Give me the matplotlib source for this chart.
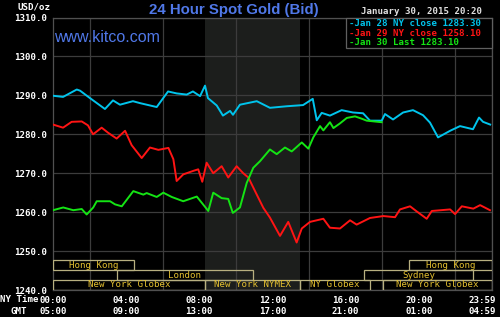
import matplotlib
matplotlib.use("Agg")
import matplotlib.pyplot as plt
from matplotlib.patches import Rectangle

# ---------------- data ----------------
cyan_h = [0.0, 0.55, 1.3, 1.48, 2.02, 2.84, 3.28, 3.66, 4.37, 4.76, 5.67, 6.29, 6.76, 7.31, 7.65,
          8.04, 8.31, 8.47, 8.95, 9.29, 9.68, 9.84, 10.22, 11.14, 11.86, 12.78, 13.67, 14.2, 14.42,
          14.69, 15.14, 15.78, 16.4, 16.95, 17.33, 17.97, 18.15, 18.59, 19.14, 19.68, 20.23, 20.61,
          21.05, 21.71, 22.25, 22.96, 23.29, 23.51, 23.9]
cyan_p = [1289.9, 1289.6, 1291.5, 1291.2, 1289.3, 1286.5, 1288.7, 1287.6, 1288.5, 1288.0, 1287.0,
          1291.0, 1290.5, 1290.2, 1291.0, 1289.8, 1292.5, 1289.3, 1287.4, 1284.8, 1286.0, 1285.0,
          1287.6, 1288.5, 1286.8, 1287.2, 1287.5, 1289.1, 1283.6, 1285.5, 1284.8, 1286.2, 1285.6,
          1285.4, 1283.5, 1283.5, 1285.2, 1283.8, 1285.6, 1286.2, 1284.9, 1283.0, 1279.2, 1280.9,
          1282.1, 1281.3, 1284.3, 1283.2, 1282.5]

red_h = [0.0, 0.55, 1.02, 1.57, 1.91, 2.19, 2.66, 3.01, 3.48, 3.94, 4.3, 4.85, 5.3, 5.76, 6.31,
         6.58, 6.76, 7.12, 7.67, 7.94, 8.16, 8.4, 8.76, 9.22, 9.58, 10.04, 10.4, 10.68, 11.14, 11.5,
         11.86, 12.41, 12.86, 13.32, 13.6, 14.05, 14.78, 15.14, 15.69, 16.24, 16.6, 17.33, 18.06,
         18.7, 18.97, 19.52, 19.88, 20.43, 20.71, 21.71, 21.98, 22.35, 22.98, 23.35, 23.89]
red_p = [1282.5, 1281.7, 1283.2, 1283.3, 1282.3, 1280.0, 1281.7, 1280.4, 1278.9, 1280.9, 1277.2,
         1273.9, 1276.6, 1276.0, 1276.5, 1273.6, 1268.0, 1269.7, 1270.6, 1271.0, 1267.8, 1272.7,
         1270.0, 1271.8, 1268.9, 1271.8, 1270.0, 1268.9, 1264.5, 1261.1, 1258.6, 1253.9, 1257.5,
         1252.2, 1255.8, 1257.5, 1258.3, 1256.0, 1255.8, 1257.9, 1256.8, 1258.5, 1259.0, 1258.7,
         1260.7, 1261.5, 1260.2, 1258.3, 1260.3, 1260.7, 1259.5, 1261.5, 1260.9, 1261.8, 1260.5]

green_h = [0.0, 0.56, 1.11, 1.57, 1.84, 2.2, 2.39, 3.12, 3.39, 3.76, 4.39, 4.94, 5.12, 5.67, 6.03,
           6.49, 7.12, 7.86, 8.22, 8.49, 8.76, 9.22, 9.58, 9.83, 10.22, 10.59, 10.95, 11.32, 11.86,
           12.23, 12.68, 13.05, 13.6, 13.96, 14.23, 14.6, 14.78, 15.14, 15.33, 15.69, 16.06, 16.51,
           16.88, 17.15, 17.97]
green_p = [1260.5, 1261.2, 1260.5, 1260.8, 1259.4, 1261.2, 1262.8, 1262.8, 1262.0, 1261.5, 1265.4,
           1264.5, 1264.9, 1263.9, 1265.0, 1263.9, 1262.8, 1264.0, 1261.9, 1260.3, 1265.0, 1263.6,
           1263.4, 1259.8, 1261.2, 1267.5, 1271.4, 1273.1, 1276.1, 1274.9, 1276.6, 1275.6, 1277.9,
           1276.3, 1279.2, 1282.1, 1281.0, 1283.1, 1281.6, 1282.8, 1284.2, 1284.6, 1284.0, 1283.5,
           1283.1]

legend_labels = ["-Jan 28 NY close 1283.30", "-Jan 29 NY close 1258.10", "-Jan 30 Last 1283.10"]

y_ticks = [1240, 1250, 1260, 1270, 1280, 1290, 1300, 1310]
ny_labels = ["00:00", "04:00", "08:00", "12:00", "16:00", "20:00"]
gmt_labels = ["05:00", "09:00", "13:00", "17:00", "21:00", "01:00"]
ny_ticks = [0, 4, 8, 12, 16, 20]
end_ny, end_gmt = "23:59", "04:59"

session_labels = ["Hong Kong", "London", "New York Globex", "New York NYMEX", "NY Globex",
                  "New York Globex", "Hong Kong", "Sydney"]
session_start = [0.0, 3.5, 0.0, 8.33, 13.5, 18.04, 19.46, 17.0]
session_end = [4.43, 10.93, 8.33, 13.5, 17.33, 24.0, 24.0, 22.96]
session_row = [0, 1, 2, 2, 2, 2, 0, 1]

pit_start, pit_end = 8.33, 13.5

# ---------------- styling ----------------
MONO = "DejaVu Sans Mono"
FS = 6.6
CYAN = "#00c4ec"
RED = "#ff1414"
GREEN = "#14e414"
BLUE = "#5078e8"
GRID = "#3c3c3c"
BOX = "#b8b080"
GOLD = "#e4c030"

W, H = 500, 317
fig = plt.figure(figsize=(W / 100, H / 100), dpi=100, facecolor="black")
L, R, T, B = 53, 492, 17.5, 290
ax = fig.add_axes([L / W, 1 - B / H, (R - L) / W, (B - T) / H])
ax.set_facecolor("black")
ax.set_xlim(0, 24)
ax.set_ylim(1240, 1310)

ax.axvspan(pit_start, pit_end, color="#1c1e1c", zorder=0.1, lw=0)

ax.set_yticks(y_ticks)
ax.set_yticklabels([f"{v:.1f}" for v in y_ticks], family=MONO, fontsize=FS, color="white",
                   fontweight="bold")
ax.set_xticks(ny_ticks)
ax.set_xticklabels([f"{a}\n{b}" for a, b in zip(ny_labels, gmt_labels)], family=MONO,
                   fontsize=FS, color="white", fontweight="bold", linespacing=1.3)
ax.set_xticks(range(0, 25, 2), minor=True)
ax.tick_params(length=0, which="both")
ax.tick_params(axis="y", pad=4)
ax.tick_params(axis="x", pad=4)
ax.set_axisbelow(True)
ax.grid(axis="y", color=GRID, lw=0.9)
ax.grid(axis="x", which="minor", color=GRID, lw=0.9)
for s in ax.spines.values():
    s.set_color("#505050")
    s.set_linewidth(0.9)

# end label 23:59 / 04:59
ax.text(1.01, -0.022, f"{end_ny}\n{end_gmt}", transform=ax.transAxes, ha="right", va="top",
        family=MONO, fontsize=FS, color="white", fontweight="bold", linespacing=1.3)

# sessions
row_bounds = [(1245.1, 1247.7), (1242.6, 1245.1), (1240.0, 1242.6)]
for lab, s0, s1, r in zip(session_labels, session_start, session_end, session_row):
    y0, y1 = row_bounds[r]
    ax.add_patch(Rectangle((s0, y0), s1 - s0, y1 - y0, fill=False, ec=BOX, lw=0.9, zorder=3))
    ax.text((s0 + s1) / 2, (y0 + y1) / 2, lab, ha="center", va="center", family=MONO,
            fontsize=FS, color=GOLD, zorder=4)

# series
ax.plot(cyan_h, cyan_p, color=CYAN, lw=1.4, zorder=5)
ax.plot(red_h, red_p, color=RED, lw=1.4, zorder=5)
ax.plot(green_h, green_p, color=GREEN, lw=1.4, zorder=6)

# legend box (pixel positions converted to axes fraction)
def axf(px, py):
    return (px - L) / (R - L), (B - py) / (B - T)

x0, y0 = axf(345.5, 48)
x1, y1 = axf(492, 17.5)
ax.add_patch(Rectangle((x0, y0), x1 - x0, y1 - y0, transform=ax.transAxes, fc="black",
                       ec="#606060", lw=0.9, zorder=8, clip_on=False))
for lab, col, py in zip(legend_labels, [CYAN, RED, GREEN], [23.5, 33, 42.5]):
    tx, ty = axf(349, py)
    ax.text(tx, ty, lab, transform=ax.transAxes, ha="left", va="center", family=MONO,
            fontsize=FS, color=col, fontweight="bold", zorder=9)

# texts
fig.text(233.5 / W, 1 - 10 / H, "24 Hour Spot Gold (Bid)", ha="center", va="center",
         family="Liberation Sans", fontsize=10.8, fontweight="bold", color=BLUE)
ax.text(*axf(54, 38), "www.kitco.com", transform=ax.transAxes, ha="left", va="center",
        family="Liberation Sans", fontsize=11.5, color=BLUE, zorder=7)
fig.text(17 / W, 1 - 6.5 / H, "USD/oz", ha="left", va="center", family=MONO, fontsize=FS,
         color="white", fontweight="bold")
fig.text(482 / W, 1 - 12 / H, "January 30, 2015 20:20", ha="right", va="center", family=MONO,
         fontsize=FS, color="#e0e0e0", fontweight="bold")
fig.text(19 / W, 1 - 300 / H, "NY Time", ha="center", va="center", family=MONO, fontsize=FS,
         color="white", fontweight="bold")
fig.text(19 / W, 1 - 312 / H, "GMT", ha="center", va="center", family=MONO, fontsize=FS,
         color="white", fontweight="bold")

fig.savefig("out.png", dpi=100, facecolor="black")
